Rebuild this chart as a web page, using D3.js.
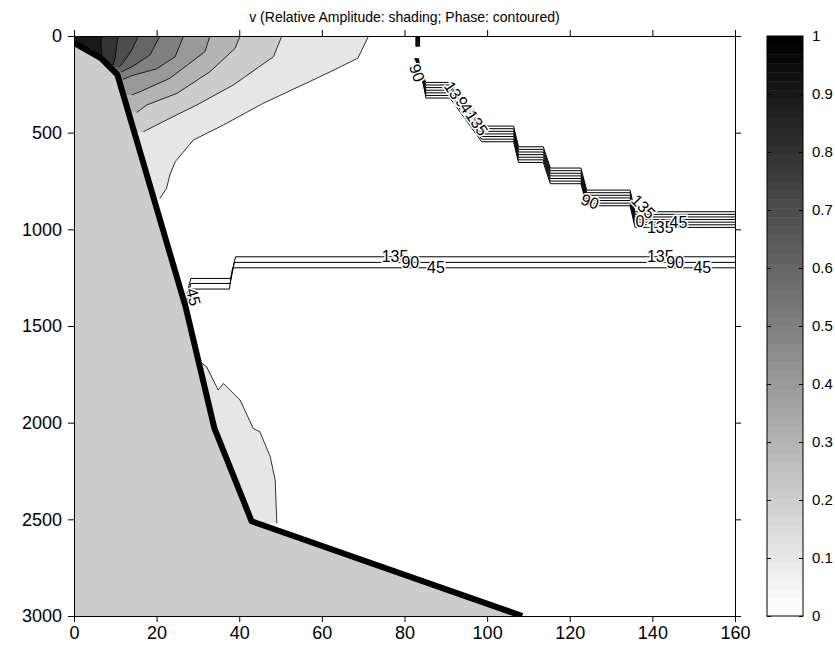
<!DOCTYPE html>
<html lang="en">
<head>
<meta charset="utf-8">
<title>v (Relative Amplitude: shading; Phase: contoured)</title>
<script src="https://cdn.jsdelivr.net/npm/d3@7"></script>
<style>
  body { margin: 0; background: #fff; }
  svg text { font-family: "Liberation Sans", Arial, sans-serif; fill: #000; }
  .axis path, .axis line { stroke: #000; }
  .axis text { font-size: 18px; }
  .cbar text { font-size: 15px; }
</style>
</head>
<body>
<div id="chart"></div>
<script>
// ---- data (distance km, depth m) ----
var xTicks = [0, 20, 40, 60, 80, 100, 120, 140, 160];
var depthTicks = [0, 500, 1000, 1500, 2000, 2500, 3000];
var barTicks = [0, 0.1, 0.2, 0.3, 0.4, 0.5, 0.6, 0.7, 0.8, 0.9, 1];

// bathymetry (thick line)
var bottomX = [0, 6.5, 10.5, 27, 34, 43, 108.5];
var bottomD = [35, 115, 200, 1400, 2030, 2510, 3000];

// relative amplitude contours near the surface, one per level
var ampLevels = [0.1, 0.2, 0.3, 0.4, 0.5, 0.6, 0.7, 0.8, 0.9];
var ampContourX = [
  [71.3, 68.7, 60.4, 45.8, 36.2, 28.9, 24.5, 23.2, 22.4, 20.8],
  [50.3, 48.3, 38.6, 29.7, 24.0, 16.8],
  [40.2, 39.0, 32.9, 24.9, 17.6, 15.2],
  [32.9, 31.7, 23.2, 16.0, 14.0],
  [26.5, 24.5, 20.0, 14.0, 11.8],
  [20.8, 18.4, 14.0, 11.5],
  [15.6, 14.0, 12.0, 11.0],
  [10.7, 10.3, 10.0, 9.5],
  [6.5, 6.6, 6.8]
];
var ampContourD = [
  [0, 115, 202, 348, 460, 538, 650, 719, 788, 840],
  [0, 107, 253, 357, 417, 495],
  [0, 64, 185, 297, 357, 395],
  [0, 81, 219, 288, 305],
  [0, 107, 170, 205, 225],
  [0, 98, 160, 185],
  [0, 72, 135, 160],
  [0, 47, 110, 150],
  [0, 60, 110]
];
// deep patch of amplitude 0.1 along the slope
var patchLevel = 0.1;
var patchX = [30.8, 32.1, 34.9, 36.2, 40.2, 43.4, 45.0, 47.5, 48.7, 49.1];
var patchD = [1690, 1711, 1831, 1797, 1883, 2030, 2047, 2176, 2297, 2521];

// phase contours, upper staircase bundle
var phaseLevels = [-135, -90, -45, 0, 45, 90, 135];
var stairStartX = [85.2, 98.7, 107.6, 115.3, 124.1, 135.8];
var stairEndX = [91.0, 106.4, 113.6, 122.7, 134.6, 160];
var stairDepth = [240, 466, 573, 683, 797, 909];
var stairSpacing = 13.5;

// phase contours, lower bundle
var lowerLevels = [135, 90, 45];
var lowerRightD = [1142, 1171, 1199];
var lowerCornerTopX = [39.1, 38.8, 38.4];
var lowerCornerBotX = [37.9, 37.8, 37.6];
var lowerLeftD = [1254, 1280, 1309];

// contour labels
var labelText = ["90", "135", "90", "45", "135", "90", "135", "0", "135", "45",
                 "135", "90", "45", "135", "90", "45", "45"];
var labelX = [83.0, 92.3, 94.5, 95.5, 97.5, 124.9, 137.8, 137.0, 141.9, 146.3,
              77.7, 81.4, 87.6, 141.9, 145.5, 152.1, 28.9];
var labelD = [191, 300, 360, 390, 450, 857, 883, 957, 993, 966,
              1142, 1171, 1199, 1142, 1171, 1199, 1349];
var labelAngle = [70, 55, 55, 55, 55, 20, 45, 0, 0, 0,
                  0, 0, 0, 0, 0, 0, 75];

// ---- drawing ----
var W = 835, H = 652;
var svg = d3.select("#chart").append("svg")
  .attr("width", W).attr("height", H);

var x = d3.scaleLinear().domain([0, 160]).range([74, 735]);
var y = d3.scaleLinear().domain([0, 3000]).range([36, 616]);
var shade = function (v) { var g = Math.round(255 * (1 - v)); return d3.rgb(g, g, g).toString(); };

var line = d3.line()
  .defined(function (p) { return p != null; })
  .x(function (p) { return x(p[0]); })
  .y(function (p) { return y(p[1]); });

svg.append("defs").append("clipPath").attr("id", "plotclip")
  .append("rect").attr("x", x(0)).attr("y", y(0))
  .attr("width", x(160) - x(0)).attr("height", y(3000) - y(0));

var plot = svg.append("g").attr("clip-path", "url(#plotclip)");

// amplitude bands, light to dark
ampLevels.forEach(function (lv, i) {
  var pts = ampContourX[i].map(function (v, j) { return [v, ampContourD[i][j]]; });
  var last = pts[pts.length - 1];
  plot.append("path")
    .attr("d", line(pts.concat([[0, last[1]], [0, 0]])) + "Z")
    .attr("fill", shade(lv)).attr("stroke", "none");
});
ampLevels.forEach(function (lv, i) {
  var pts = ampContourX[i].map(function (v, j) { return [v, ampContourD[i][j]]; });
  plot.append("path").attr("d", line(pts))
    .attr("fill", "none").attr("stroke", "#000").attr("stroke-width", 0.8);
});

var patchPts = patchX.map(function (v, j) { return [v, patchD[j]]; });
plot.append("path")
  .attr("d", line(patchPts.concat([[0, patchD[patchD.length - 1]], [0, patchD[0]]])) + "Z")
  .attr("fill", shade(patchLevel));
plot.append("path").attr("d", line(patchPts))
  .attr("fill", "none").attr("stroke", "#000").attr("stroke-width", 0.8);

// upper phase staircase
phaseLevels.forEach(function (lv, i) {
  var dx = (i - 3) * 0.15;
  var off = i * stairSpacing;
  var pts = [[83.2 + dx, 0], [83.2 + dx, 55], null, [82.9 + dx, 115]];
  stairStartX.forEach(function (sx, k) {
    pts.push([sx, stairDepth[k] + off]);
    pts.push([stairEndX[k], stairDepth[k] + off]);
  });
  plot.append("path").attr("d", line(pts))
    .attr("fill", "none").attr("stroke", "#000").attr("stroke-width", 1);
});

// lower phase bundle
lowerLevels.forEach(function (lv, i) {
  var pts = [[160, lowerRightD[i]], [lowerCornerTopX[i], lowerRightD[i]],
             [lowerCornerBotX[i], lowerLeftD[i]], [28.3, lowerLeftD[i]],
             [27.3, lowerLeftD[i] + 80]];
  plot.append("path").attr("d", line(pts))
    .attr("fill", "none").attr("stroke", "#000").attr("stroke-width", 1);
});

// contour labels
labelText.forEach(function (t, i) {
  var px = x(labelX[i]), py = y(labelD[i]);
  plot.append("text")
    .attr("transform", "translate(" + px + "," + py + ") rotate(" + labelAngle[i] + ")")
    .attr("text-anchor", "middle").attr("dominant-baseline", "central")
    .style("font-size", "16px")
    .attr("stroke", "#fff").attr("stroke-width", 3).attr("paint-order", "stroke")
    .text(t);
});

// land and bathymetry
var bottomPts = bottomX.map(function (v, j) { return [v, bottomD[j]]; });
plot.append("path")
  .attr("d", line(bottomPts.concat([[0, 3000]])) + "Z")
  .attr("fill", "#cccccc");
plot.append("path").attr("d", line(bottomPts))
  .attr("fill", "none").attr("stroke", "#000").attr("stroke-width", 6)
  .attr("stroke-linejoin", "round");

// axes (box with outward ticks)
svg.append("g").attr("class", "axis")
  .attr("transform", "translate(0," + y(3000) + ")")
  .call(d3.axisBottom(x).tickValues(xTicks).tickSizeOuter(0).tickPadding(4));
svg.append("g").attr("class", "axis")
  .attr("transform", "translate(0," + y(0) + ")")
  .call(d3.axisTop(x).tickValues(xTicks).tickSizeOuter(0).tickFormat(""));
svg.append("g").attr("class", "axis")
  .attr("transform", "translate(" + x(0) + ",0)")
  .call(d3.axisLeft(y).tickValues(depthTicks).tickSizeOuter(0).tickPadding(6)
    .tickFormat(d3.format("d")));
svg.append("g").attr("class", "axis")
  .attr("transform", "translate(" + x(160) + ",0)")
  .call(d3.axisRight(y).tickValues(depthTicks).tickSizeOuter(0).tickFormat(""));

// title
svg.append("text")
  .attr("x", (x(0) + x(160)) / 2).attr("y", 22)
  .attr("text-anchor", "middle").style("font-size", "14px")
  .text("v (Relative Amplitude: shading; Phase: contoured)");

// colorbar
var cb = { x0: 767, x1: 803 };
var cy = d3.scaleLinear().domain([0, 1]).range([616, 36]);
var nSteps = 64;
svg.append("g").selectAll("rect")
  .data(d3.range(nSteps)).enter().append("rect")
  .attr("x", cb.x0).attr("width", cb.x1 - cb.x0)
  .attr("y", function (k) { return cy((k + 1) / nSteps); })
  .attr("height", function (k) { return cy(k / nSteps) - cy((k + 1) / nSteps) + 0.5; })
  .attr("fill", function (k) { return shade(k / (nSteps - 1)); });
svg.append("rect")
  .attr("x", cb.x0).attr("y", cy(1))
  .attr("width", cb.x1 - cb.x0).attr("height", cy(0) - cy(1))
  .attr("fill", "none").attr("stroke", "#000");
svg.append("g").attr("class", "axis cbar")
  .attr("transform", "translate(" + cb.x1 + ",0)")
  .call(d3.axisRight(cy).tickValues(barTicks).tickSize(-4).tickSizeOuter(0).tickPadding(9)
    .tickFormat(function (v) { return String(+v.toFixed(1)); }))
  .call(function (g) { g.select(".domain").remove(); });
svg.append("g").attr("class", "axis")
  .attr("transform", "translate(" + cb.x0 + ",0)")
  .call(d3.axisLeft(cy).tickValues(barTicks).tickSize(-4).tickSizeOuter(0).tickFormat(""))
  .call(function (g) { g.select(".domain").remove(); });
</script>
</body>
</html>
